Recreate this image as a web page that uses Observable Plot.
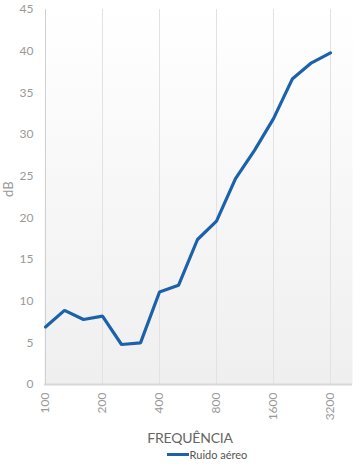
<!DOCTYPE html>
<html>
<head>
<meta charset="utf-8">
<script src="https://cdn.jsdelivr.net/npm/d3@7"></script>
<script src="https://cdn.jsdelivr.net/npm/@observablehq/plot@0.6"></script>
<style>
  html, body { margin: 0; padding: 0; background: #fff; }
  body { width: 360px; height: 473px; font-family: Lato, "Open Sans", sans-serif; }
  #title { text-align: center; width: 360px; padding-left: 20px; box-sizing: border-box; font-size: 14px; color: #666; margin-top: 4px; letter-spacing: -0.2px; }
  #legend { display: flex; justify-content: center; align-items: center; width: 360px; padding-left: 54px; box-sizing: border-box; font-size: 11px; color: #555; margin-top: 2px; }
  #legend .sw { display: inline-block; width: 22px; height: 3px; background: #1c62ab; margin-right: 1px; }
</style>
</head>
<body>
<div id="chart"></div>
<div id="title">FREQUÊNCIA</div>
<div id="legend"><span class="sw"></span><span>Ruido aéreo</span></div>
<script>
const categories = ["100","125","160","200","250","315","400","500","630","800","1000","1250","1600","2000","2500","3200"];
const values = [6.9, 8.9, 7.8, 8.2, 4.8, 5.0, 11.1, 11.9, 17.4, 19.6, 24.7, 28.1, 31.9, 36.7, 38.6, 39.8];
const xTickLabels = ["100","200","400","800","1600","3200"];
const yTicks = [0,5,10,15,20,25,30,35,40,45];
const yLabel = "dB";
const seriesName = "Ruido aéreo";

const data = categories.map((c, i) => ({freq: c, db: values[i]}));

const chart = Plot.plot({
  width: 360,
  height: 425,
  marginLeft: 44,
  marginRight: 8,
  marginTop: 9,
  marginBottom: 41,
  style: {fontFamily: "Lato, 'Open Sans', sans-serif", fontSize: "12px", color: "#999", background: "transparent"},
  x: {type: "point", domain: categories, range: [44, 331], padding: 0, ticks: xTickLabels, tickRotate: -90, tickSize: 0, tickPadding: 8, label: null},
  y: {domain: [0, 45], ticks: yTicks, tickSize: 0, tickPadding: 11, label: null},
  marks: [
    Plot.frame({fill: "url(#bgGrad)", stroke: null}),
    Plot.ruleX(xTickLabels, {x: d => d, y1: 0, y2: 45, stroke: "#e2e2e2", strokeWidth: 1}),
    Plot.ruleX([categories[0]], {y1: 0, y2: 45, stroke: "#d0d0d0", strokeWidth: 1}),
    Plot.ruleY([0], {stroke: "#d8d8d8", strokeWidth: 2}),
    Plot.line(data, {x: "freq", y: "db", stroke: "#1c62ab", strokeWidth: 3.2, strokeLinejoin: "miter", title: () => seriesName}),
    Plot.text([yLabel], {frameAnchor: "left", dx: -36, rotate: -90, fill: "#999", fontSize: 13})
  ]
});

const ns = "http://www.w3.org/2000/svg";
const defs = document.createElementNS(ns, "defs");
const grad = document.createElementNS(ns, "linearGradient");
grad.setAttribute("id", "bgGrad");
grad.setAttribute("x1", "0"); grad.setAttribute("y1", "0");
grad.setAttribute("x2", "0"); grad.setAttribute("y2", "1");
[["0", "#ffffff"], ["1", "#efefef"]].forEach(([o, c]) => {
  const s = document.createElementNS(ns, "stop");
  s.setAttribute("offset", o); s.setAttribute("stop-color", c);
  grad.appendChild(s);
});
defs.appendChild(grad);
chart.insertBefore(defs, chart.firstChild);

document.getElementById("chart").appendChild(chart);
</script>
</body>
</html>
